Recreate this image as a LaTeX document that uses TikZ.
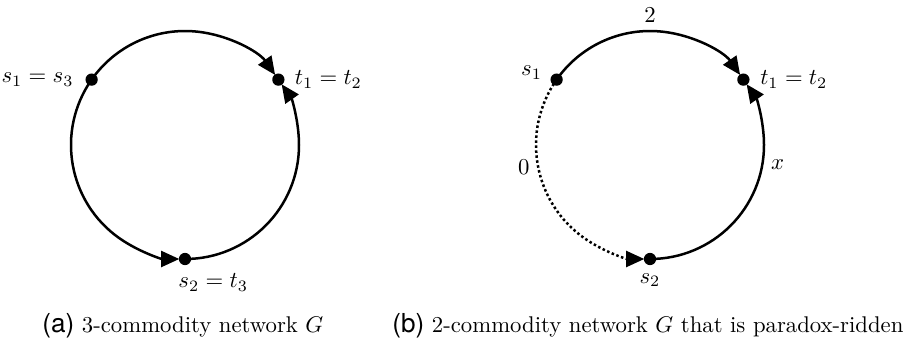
\documentclass[tikz,border=0pt]{standalone}
\usepackage{fontspec}
\usepackage{amsmath}
\usepackage{tikz}
\usetikzlibrary{arrows.meta,calc}
\newfontfamily\capfont{TeX Gyre Heros}
\newcommand{\sublabel}[1]{{\capfont\fontsize{11.5}{13}\selectfont (#1)}}

\begin{document}
\begin{tikzpicture}[x=0.44pt,y=0.44pt,
  dot/.style={circle,fill=black,inner sep=0pt,minimum size=5.4pt},
  arr/.style={-{Triangle[length=8pt,width=7pt]},line width=1.1pt,shorten >=2.5pt},
  dotline/.style={arr,dash pattern=on 1.1pt off 1.1pt},
  capt/.style={anchor=base west,inner sep=0pt}]
  \useasboundingbox (0,0) rectangle (913,343);
  \coordinate (lc) at (185,198);
  \coordinate (rc) at (650,198);
  % (a) three commodities
  \node[dot,label={[label distance=1.5pt]left:$s_1=s_3$}] (ls1) at ($(lc)+(145:114)$) {};
  \node[dot,label={[label distance=0.8pt]right:$t_1=t_2$}] (lt1) at ($(lc)+(35:114)$) {};
  \node[dot,label={[anchor=north west,xshift=-6.4pt]south:$s_2=t_3$}] (ls2) at ($(lc)+(270:114)$) {};
  \draw[arr] (ls1.center) arc[start angle=145,end angle=35,radius=50.16pt];
  \draw[arr] (ls1.center) arc[start angle=145,end angle=270,radius=50.16pt];
  \draw[arr] (ls2.center) arc[start angle=-90,end angle=35,radius=50.16pt];
  % (b) two commodities
  \node[dot,label={[yshift=3pt]left:$s_1$}] (rs1) at ($(rc)+(145:114)$) {};
  \node[dot,label={[label distance=1pt]right:$t_1=t_2$}] (rt1) at ($(rc)+(35:114)$) {};
  \node[dot,label=below:$s_2$] (rs2) at ($(rc)+(270:114)$) {};
  \draw[arr] (rs1.center) arc[start angle=145,end angle=35,radius=50.16pt] node[pos=0.5,above]{$2$};
  \draw[dotline] (rs1.center) arc[start angle=145,end angle=270,radius=50.16pt] node[pos=0.37,left]{$0$};
  \draw[arr] (rs2.center) arc[start angle=-90,end angle=35,radius=50.16pt] node[pos=0.64,right]{$x$};
  % captions
  \node[capt] (capa) at (42,11) {\sublabel{a} 3-commodity network $G$};
  \node[capt] (capb) at (392,11) {\sublabel{b} 2-commodity network $G$ that is paradox-ridden};
\end{tikzpicture}
\end{document}
